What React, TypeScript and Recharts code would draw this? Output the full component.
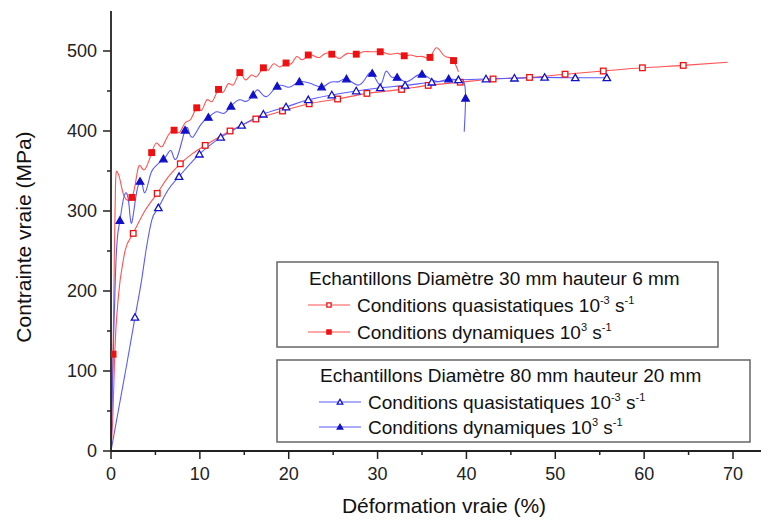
import React from 'react';
import { LineChart, Line, XAxis, YAxis } from 'recharts';

// [déformation %, contrainte MPa, marker?]
type Pt = [number, number, number?];

const xTicks = [0, 5, 10, 15, 20, 25, 30, 35, 40, 45, 50, 55, 60, 65, 70];
const yTicks = [0, 50, 100, 150, 200, 250, 300, 350, 400, 450, 500];

// 30 mm / 6 mm, quasistatique
const red30Quasi: Pt[] = [
  [0, 0], [0.2, 40], [0.45, 130], [0.83, 193], [1.39, 239], [1.6, 251], [2.5, 272, 1], [3.8, 300],
  [5.2, 322, 1], [6.4, 342], [7.8, 359, 1], [9.2, 372], [10.6, 382, 1], [13.4, 400, 1], [16.3, 415, 1],
  [19.3, 425, 1], [22.3, 434, 1], [25.5, 440, 1], [28.8, 447, 1], [32.7, 452, 1], [35.7, 457, 1],
  [39.3, 461, 1], [43.0, 465, 1], [47.1, 467, 1], [51.1, 471, 1], [55.4, 475, 1], [59.8, 479, 1],
  [64.4, 482, 1], [69.4, 486],
];

// 30 mm / 6 mm, dynamique
const red30Dyn: Pt[] = [
  [0, 0], [0.1, 60], [0.23, 121, 1], [0.35, 220], [0.5, 330], [0.7, 349], [1.0, 340], [1.5, 318],
  [2.36, 317, 1], [2.9, 345], [3.27, 357], [3.8, 352], [4.58, 373, 1], [5.14, 385], [5.7, 380],
  [6.3, 392], [7.1, 401, 1], [7.7, 398], [8.33, 410], [9.0, 415], [9.65, 429, 1], [10.2, 426],
  [10.8, 439], [11.4, 437], [12.1, 452, 1], [12.6, 448], [13.2, 459], [13.8, 458], [14.5, 473, 1],
  [15.1, 464], [15.8, 470], [16.4, 468], [17.15, 479, 1], [17.7, 476], [18.3, 484], [19.0, 480],
  [19.7, 485, 1], [20.3, 484], [20.9, 493], [21.5, 489], [22.2, 495, 1], [22.8, 494], [23.5, 492],
  [24.1, 497], [24.85, 496, 1], [25.3, 493], [25.8, 491], [26.6, 497], [27.6, 496, 1], [28.4, 499],
  [29.2, 499], [30.3, 499, 1], [31.0, 497], [31.6, 496], [32.3, 497], [33.0, 494, 1], [33.7, 495],
  [34.4, 493], [35.1, 493], [35.9, 492, 1], [36.6, 504], [37.4, 495], [38.0, 492], [38.55, 488, 1],
  [39.1, 474],
];

// 80 mm / 20 mm, quasistatique
const blue80Quasi: Pt[] = [
  [0, 0], [0.9, 55], [1.8, 110], [2.7, 167, 1], [3.45, 214], [4.0, 255], [4.6, 289], [5.33, 304, 1],
  [6.4, 326], [7.66, 343, 1], [9.95, 371, 1], [12.35, 392, 1], [14.7, 407, 1], [17.15, 421, 1],
  [19.7, 430, 1], [22.2, 439, 1], [24.85, 445, 1], [27.6, 450, 1], [30.3, 454, 1], [33.1, 457, 1],
  [36.1, 461, 1], [39.1, 464, 1], [42.2, 465, 1], [45.4, 466, 1], [48.8, 467, 1], [52.25, 466.5, 1],
  [55.8, 466.5, 1],
];

// 80 mm / 20 mm, dynamique
const blue80Dyn: Pt[] = [
  [0, 0], [0.2, 100], [0.5, 220], [0.75, 270], [1.0, 288, 1], [1.4, 315], [1.77, 322], [2.05, 305],
  [2.33, 285], [2.8, 318], [3.27, 337, 1], [3.55, 332], [3.83, 323], [4.3, 340], [4.77, 353],
  [5.9, 365, 1], [6.4, 372], [6.83, 374], [7.4, 366], [8.33, 401, 1], [8.8, 398], [9.27, 393],
  [10.1, 408], [10.96, 417, 1], [11.9, 424], [12.7, 422], [13.5, 431, 1], [14.5, 439], [15.2, 437],
  [16.0, 445, 1], [16.6, 451], [17.5, 443], [18.7, 456, 1], [19.8, 455], [20.5, 457], [21.2, 461.6, 1],
  [22.4, 459.6], [23.7, 455, 1], [24.4, 459], [25.0, 461.6], [25.7, 462], [26.5, 465, 1], [27.7, 457.5],
  [28.6, 465], [29.4, 472, 1], [30.3, 457.5], [30.9, 474], [31.5, 468], [32.2, 467, 1], [33.1, 461.6],
  [34.0, 466], [35.0, 471, 1], [36.1, 464], [37.1, 462], [38.0, 465, 1], [39.1, 464], [39.7, 461.6],
  [39.9, 441, 1], [39.75, 399],
];

const toRows = (pts: Pt[]) => pts.map(([x, y, m]) => ({ x, y, m: !!m }));

const RED_LINE = '#ff5252';
const RED_MARK = '#ee1111';
const BLUE_LINE = '#5a5aff';
const BLUE_MARK = '#1010cc';
const AXIS = '#222';
const FONT = '"Liberation Sans", Arial, sans-serif';

const Marker = ({ kind, cx, cy, color, size = 1 }: any) => {
  if (kind === 'sq' || kind === 'sqf') {
    const h = 2.8 * size;
    return (
      <rect x={cx - h} y={cy - h} width={2 * h} height={2 * h}
        fill={kind === 'sqf' ? color : '#fff'} stroke={color} strokeWidth={1.3} />
    );
  }
  const s = 3.7 * size;
  return (
    <polygon points={`${cx},${cy - s} ${cx + s},${cy + s * 0.75} ${cx - s},${cy + s * 0.75}`}
      fill={kind === 'trf' ? color : '#fff'} stroke={color} strokeWidth={1.3} />
  );
};

const makeDot = (kind: string, color: string) => (p: any) => {
  if (!p.payload || !p.payload.m) return <g key={`d-${p.index}`} />;
  return <g key={`d-${p.index}`}><Marker kind={kind} cx={p.cx} cy={p.cy} color={color} /></g>;
};

const BottomTick = ({ x, y, payload }: any) => {
  const major = payload.value % 10 === 0;
  return (
    <g>
      <line x1={x} x2={x} y1={y} y2={y + (major ? 8 : 4)} stroke={AXIS} strokeWidth={1.5} />
      {major && (
        <text x={x} y={y + 23} dy="0.36em" textAnchor="middle" fontSize={18} fontFamily={FONT} fill="#222">
          {payload.value}
        </text>
      )}
    </g>
  );
};

const TopTick = ({ x, y, payload }: any) => {
  const major = payload.value % 10 === 0;
  return <line x1={x} x2={x} y1={y} y2={y + (major ? 8 : 4)} stroke={AXIS} strokeWidth={1.5} />;
};

const LeftTick = ({ x, y, payload }: any) => {
  const major = payload.value % 100 === 0;
  return (
    <g>
      <line x1={x - (major ? 8 : 4)} x2={x} y1={y} y2={y} stroke={AXIS} strokeWidth={1.5} />
      {major && (
        <text x={x - 14} y={y} dy="0.36em" textAnchor="end" fontSize={18} fontFamily={FONT} fill="#222">
          {payload.value}
        </text>
      )}
    </g>
  );
};

const RightTick = ({ x, y, payload }: any) => {
  const major = payload.value % 100 === 0;
  return <line x1={x - (major ? 8 : 4)} x2={x} y1={y} y2={y} stroke={AXIS} strokeWidth={1.5} />;
};

const Sup = ({ children }: any) => (
  <tspan dy={-8} fontSize={11}>{children}</tspan>
);

const LegendRow = ({ x, y, kind, color, lineColor, label, neg }: any) => (
  <g>
    <line x1={x} x2={x + 42} y1={y} y2={y} stroke={lineColor} strokeWidth={1.2} />
    <Marker kind={kind} cx={x + 21} cy={y} color={color} size={0.75} />
    <text x={x + 49} y={y} dy="0.36em" fontSize={19} fontFamily={FONT} fill="#111">
      {label} 10<Sup>{neg ? '-3' : '3'}</Sup>
      <tspan dy={8}> s</tspan>
      <Sup>-1</Sup>
    </text>
  </g>
);

export default function App() {
  return (
    <div style={{ position: 'relative', width: 761, height: 513, overflow: 'hidden', background: '#fff' }}>
      <LineChart width={800} height={513} margin={{ top: 3, right: 35, bottom: 40, left: 0 }}>
        <XAxis xAxisId="b" type="number" dataKey="x" domain={[0, 74.5]} ticks={xTicks} allowDataOverflow
          height={30} tickSize={0} tickMargin={0} axisLine={{ stroke: AXIS, strokeWidth: 1.8 }} tick={<BottomTick />} interval={0} />
        <XAxis xAxisId="t" orientation="top" type="number" dataKey="x" domain={[0, 74.5]} ticks={xTicks} allowDataOverflow
          height={0} tickSize={0} tickMargin={0} axisLine={{ stroke: AXIS, strokeWidth: 1.8 }} tick={<TopTick />} interval={0} />
        <YAxis yAxisId="l" type="number" domain={[0, 550]} ticks={yTicks} allowDataOverflow
          width={103} tickSize={0} tickMargin={0} axisLine={{ stroke: AXIS, strokeWidth: 1.8 }} tick={<LeftTick />} interval={0} />
        <YAxis yAxisId="r" orientation="right" type="number" domain={[0, 550]} ticks={yTicks} allowDataOverflow
          width={0} tickSize={0} tickMargin={0} axisLine={{ stroke: AXIS, strokeWidth: 1.8 }} tick={<RightTick />} interval={0} />

        <Line xAxisId="b" yAxisId="l" data={toRows(red30Quasi)} dataKey="y" type="monotone" stroke={RED_LINE}
          strokeWidth={1.1} dot={makeDot('sq', RED_MARK)} activeDot={false} isAnimationActive={false} />
        <Line xAxisId="b" yAxisId="l" data={toRows(blue80Quasi)} dataKey="y" type="monotone" stroke={BLUE_LINE}
          strokeWidth={1.1} dot={makeDot('tr', BLUE_MARK)} activeDot={false} isAnimationActive={false} />
        <Line xAxisId="b" yAxisId="l" data={toRows(red30Dyn)} dataKey="y" type="natural" stroke={RED_LINE}
          strokeWidth={1.1} dot={makeDot('sqf', RED_MARK)} activeDot={false} isAnimationActive={false} />
        <Line xAxisId="b" yAxisId="l" data={toRows(blue80Dyn)} dataKey="y" type="natural" stroke={BLUE_LINE}
          strokeWidth={1.1} dot={makeDot('trf', BLUE_MARK)} activeDot={false} isAnimationActive={false} />
      </LineChart>

      <svg width={800} height={513} style={{ position: 'absolute', left: 0, top: 0, pointerEvents: 'none' }}>
        <text x={436} y={497} dy="0.36em" textAnchor="middle" fontSize={21} fontFamily={FONT} fill="#111">
          Déformation vraie (%)
        </text>
        <text transform="translate(15,229) rotate(-90)" textAnchor="middle" dy="0.36em" fontSize={21}
          fontFamily={FONT} fill="#111">
          Contrainte vraie (MPa)
        </text>

        <rect x={269} y={254} width={441} height={85} fill="#fff" stroke="#666" strokeWidth={1.5} />
        <text x={301} y={270} dy="0.36em" fontSize={19} fontFamily={FONT} fill="#111">
          Echantillons Diamètre 30 mm hauteur 6 mm
        </text>
        <LegendRow x={300} y={297} kind="sq" color={RED_MARK} lineColor={RED_LINE}
          label="Conditions quasistatiques" neg />
        <LegendRow x={300} y={324} kind="sqf" color={RED_MARK} lineColor={RED_LINE}
          label="Conditions dynamiques" />

        <rect x={269} y={352} width={473} height={82} fill="#fff" stroke="#666" strokeWidth={1.5} />
        <text x={312} y={367} dy="0.36em" fontSize={19} fontFamily={FONT} fill="#111">
          Echantillons Diamètre 80 mm hauteur 20 mm
        </text>
        <LegendRow x={311} y={394} kind="tr" color={BLUE_MARK} lineColor={BLUE_LINE}
          label="Conditions quasistatiques" neg />
        <LegendRow x={311} y={419} kind="trf" color={BLUE_MARK} lineColor={BLUE_LINE}
          label="Conditions dynamiques" />
      </svg>
    </div>
  );
}
